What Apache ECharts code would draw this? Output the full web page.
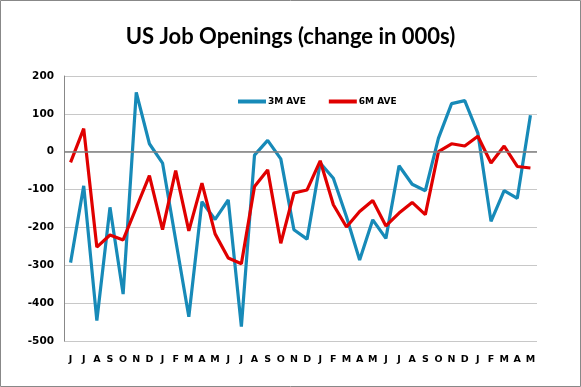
<!DOCTYPE html>
<html>
<head>
<meta charset="utf-8">
<script src="https://cdn.jsdelivr.net/npm/echarts@6/dist/echarts.min.js"></script>
<style>
html,body{margin:0;padding:0;background:#fff;}
#chart{width:581px;height:387px;}
</style>
</head>
<body>
<div id="chart"></div>
<script>
var categories = ['J','J','A','S','O','N','D','J','F','M','A','M','J','J','A','S','O','N','D','J','F','M','A','M','J','J','A','S','O','N','D','J','F','M','A','M'];
var ave3m = [-293,-90,-446,-147,-376,157,21,-30,-233,-436,-132,-179,-127,-462,-9,30,-19,-206,-231,-30,-70,-172,-286,-180,-229,-37,-86,-103,36,127,135,49,-184,-103,-123,96];
var ave6m = [-28,61,-252,-220,-233,-148,-63,-206,-50,-209,-83,-217,-281,-296,-92,-48,-242,-109,-101,-24,-140,-199,-158,-129,-196,-162,-134,-166,0,21,15,41,-30,15,-39,-43];
var yTicks = {min:-500, max:200, interval:100};

var chart = echarts.init(document.getElementById('chart'));
chart.setOption({
  animation:false,
  backgroundColor:'#fff',
  title:{
    text:'US Job Openings (change in 000s)',
    left:'center', top:21,
    textStyle:{fontFamily:'Lato', fontWeight:'bold', fontSize:22, color:'#000'}
  },
  legend:{
    left:233, top:92,
    itemWidth:28, itemHeight:4, itemGap:23,
    icon:'rect',
    textStyle:{fontFamily:'DejaVu Sans', fontWeight:'bold', fontSize:9, color:'#000', padding:[0,0,0,-3]},
    data:['3M AVE','6M AVE']
  },
  grid:{left:64, right:44, top:76, bottom:46},
  xAxis:{
    type:'category', data:categories, boundaryGap:true,
    axisLine:{show:false, onZero:false},
    axisTick:{show:false},
    axisLabel:{interval:0, margin:14, fontFamily:'DejaVu Sans', fontWeight:'bold', fontSize:9.5, color:'#000'}
  },
  yAxis:{
    type:'value', min:yTicks.min, max:yTicks.max, interval:yTicks.interval,
    axisLine:{show:true, lineStyle:{color:'#888', width:1}},
    axisTick:{show:false},
    axisLabel:{margin:10, fontFamily:'DejaVu Sans', fontWeight:'bold', fontSize:10.5, color:'#000'},
    splitLine:{show:true, lineStyle:{color:'#c8c8c8', width:1}}
  },
  graphic:[{
    type:'rect', shape:{x:0.5, y:0.5, width:580, height:386},
    style:{fill:'none', stroke:'#888', lineWidth:1}, silent:true
  }],
  series:[
    {name:'3M AVE', type:'line', data:ave3m, symbol:'none',
     lineStyle:{color:'#178ab8', width:3.2}, itemStyle:{color:'#178ab8'},
     markLine:{silent:true, symbol:'none', label:{show:false},
       lineStyle:{color:'#808080', width:1.5, type:'solid'}, data:[{yAxis:0}]},
     z:2},
    {name:'6M AVE', type:'line', data:ave6m, symbol:'none',
     lineStyle:{color:'#e00000', width:3.2}, itemStyle:{color:'#e00000'}, z:3}
  ]
});
</script>
</body>
</html>
